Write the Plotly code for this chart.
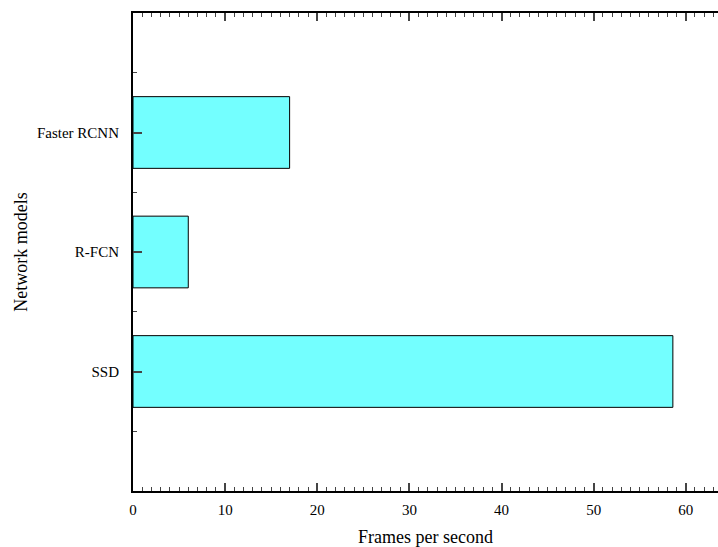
import plotly.graph_objects as go

models = ["SSD", "R-FCN", "Faster RCNN"]
fps = [58.6, 6, 17]
positions = [0, 1, 2]
x_ticks = [0, 10, 20, 30, 40, 50, 60]

fig = go.Figure()
fig.add_trace(go.Bar(
    x=fps, y=positions, orientation="h", width=0.6,
    marker=dict(color="#73FFFF", line=dict(color="black", width=1)),
))

font = "Liberation Serif, Times New Roman, serif"
fig.update_layout(
    width=718, height=547,
    margin=dict(l=133, r=0, t=13, b=56),
    plot_bgcolor="white", paper_bgcolor="white",
    showlegend=False,
    font=dict(family=font, size=15, color="black"),
)
fig.update_xaxes(
    range=[0, 63.5], tickvals=x_ticks, ticks="inside", ticklen=8, tickwidth=1.5,
    showline=True, linecolor="black", linewidth=2, mirror="ticks", showgrid=False, zeroline=False,
    minor=dict(ticks="inside", ticklen=4, dtick=1, tick0=0, tickwidth=1.2, showgrid=False),
    title=dict(text="Frames per second", font=dict(size=18, family=font), standoff=14),
    tickfont=dict(size=15, family=font), automargin=False, ticklabelstandoff=4,
)
fig.update_yaxes(
    range=[-1, 3], tickvals=positions, ticktext=models, ticks="inside", ticklen=9, tickwidth=1.5,
    showline=True, linecolor="black", linewidth=2, showgrid=False, zeroline=False,
    minor=dict(ticks="inside", ticklen=4, dtick=1, tick0=-0.5, tickwidth=1.2, showgrid=False),
    title=dict(text="Network models", font=dict(size=18, family=font), standoff=5),
    tickfont=dict(size=15, family=font), automargin=False, ticklabelstandoff=9,
)
fig.write_html("out.html", config={"displayModeBar": False})

with open("out.html", encoding="utf-8") as f:
    html = f.read()
html = html.replace("<head>", "<head><style>html,body{margin:0;padding:0;overflow:hidden}</style>", 1)
with open("out.html", "w", encoding="utf-8") as f:
    f.write(html)
